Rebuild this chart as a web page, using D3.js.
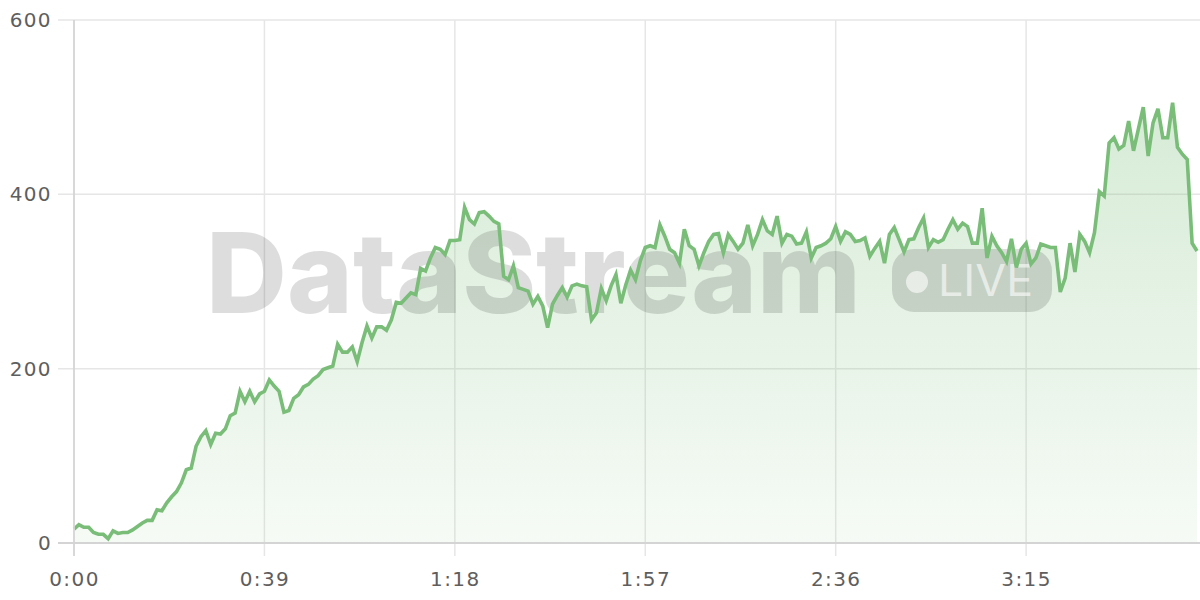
<!DOCTYPE html>
<html>
<head>
<meta charset="utf-8">
<script src="https://cdn.jsdelivr.net/npm/d3@7"></script>
<style>
  html, body { margin: 0; padding: 0; background: #fff; }
  svg { display: block; }
</style>
</head>
<body>
<svg id="chart" width="1200" height="600"></svg>
<script>
// ---- data (seconds -> value) ----
const values = [
  16,21,18,18,12,10,10,5,14,11,
  12,12,15,19,23,26,26,38,37,46,
  53,59,69,84,86,111,122,129,113,126,
  125,131,146,149,174,162,174,162,171,174,
  187,180,174,150,152,166,170,179,182,188,
  192,199,201,203,228,219,219,225,208,230,
  249,235,248,248,244,256,276,275,281,287,
  285,315,312,327,339,337,331,347,347,348,
  385,371,366,379,380,375,369,366,306,302,
  318,293,291,289,274,283,272,247,274,284,
  293,282,295,297,295,294,256,264,292,278,
  295,308,275,296,313,302,324,339,341,339,
  365,352,337,333,321,360,341,337,318,333,
  346,354,355,333,354,346,337,344,365,341,
  354,371,358,354,375,344,354,352,343,344,
  357,327,339,341,344,349,363,346,357,354,
  346,347,350,329,338,346,321,354,362,348,
  334,348,349,362,373,339,348,345,348,360,
  371,360,367,363,344,344,384,327,352,341,
  333,323,349,316,337,344,320,327,343,341,
  339,339,288,304,344,311,354,346,333,356,
  403,398,459,465,452,456,484,450,475,500,
  444,482,498,465,465,505,454,446,440,344,
  335
];
const times = values.map((v, i) => i);
const xTicks = [0, 39, 78, 117, 156, 195];
const xTickLabels = ["0:00", "0:39", "1:18", "1:57", "2:36", "3:15"];
const yTicks = [0, 200, 400, 600];
const watermarkText = "DataStream";
const badgeText = "LIVE";

const data = times.map((t, i) => ({ t, v: values[i] }));

const svg = d3.select("#chart");
const W = 1200, H = 600;
const mLeft = 74, mRight = 1197, mTop = 20, mBottom = 543;

const x = d3.scaleLinear().domain([0, 230]).range([mLeft, mRight]);
const y = d3.scaleLinear().domain([0, 600]).range([mBottom, mTop]);

const defs = svg.append("defs");
const grad = defs.append("linearGradient")
  .attr("id", "areaGrad").attr("x1", 0).attr("x2", 0)
  .attr("gradientUnits", "userSpaceOnUse")
  .attr("y1", y(520)).attr("y2", y(0));
grad.append("stop").attr("offset", 0).attr("stop-color", "#7dbf7d").attr("stop-opacity", 0.32);
grad.append("stop").attr("offset", 1).attr("stop-color", "#7dbf7d").attr("stop-opacity", 0.07);

// grid
const grid = svg.append("g");
grid.selectAll("line.h").data(yTicks).join("line")
  .attr("x1", 58).attr("x2", W).attr("y1", d => y(d)).attr("y2", d => y(d))
  .attr("stroke", "#e6e6e6").attr("stroke-width", 1.5);
grid.selectAll("line.v").data(xTicks.slice(1)).join("line")
  .attr("x1", d => x(d)).attr("x2", d => x(d)).attr("y1", mTop).attr("y2", 556)
  .attr("stroke", "#e6e6e6").attr("stroke-width", 1.5);

// area
const area = d3.area().x(d => x(d.t)).y0(y(0)).y1(d => y(d.v));
svg.append("path").datum(data).attr("d", area).attr("fill", "url(#areaGrad)");

// watermark
const wm = svg.append("g");
wm.append("text").text(watermarkText)
  .attr("x", 206).attr("y", 313)
  .attr("textLength", 655).attr("lengthAdjust", "spacingAndGlyphs")
  .attr("font-family", "Inter, Roboto, Liberation Sans, sans-serif")
  .attr("font-weight", 800).attr("font-size", 112)
  .attr("fill", "#000").attr("fill-opacity", 0.135);
wm.append("rect").attr("x", 892).attr("y", 249).attr("width", 160).attr("height", 63)
  .attr("rx", 22).attr("fill", "#000").attr("fill-opacity", 0.135);
wm.append("circle").attr("cx", 917).attr("cy", 282).attr("r", 11)
  .attr("fill", "#fff").attr("fill-opacity", 0.6);
wm.append("text").text(badgeText)
  .attr("x", 938).attr("y", 296)
  .attr("textLength", 95).attr("lengthAdjust", "spacingAndGlyphs")
  .attr("font-family", "Inter, Liberation Sans, sans-serif")
  .attr("font-size", 44)
  .attr("fill", "#fff").attr("fill-opacity", 0.6);

// line
const line = d3.line().x(d => x(d.t)).y(d => y(d.v));
svg.append("path").datum(data).attr("d", line)
  .attr("fill", "none").attr("stroke", "#79bd79").attr("stroke-width", 3.6)
  .attr("stroke-linejoin", "miter").attr("stroke-miterlimit", 4);

// axes lines
svg.append("line").attr("x1", mLeft).attr("x2", mLeft).attr("y1", mTop).attr("y2", 556)
  .attr("stroke", "#d4d4d4").attr("stroke-width", 1.8);
svg.append("line").attr("x1", 58).attr("x2", W).attr("y1", mBottom).attr("y2", mBottom)
  .attr("stroke", "#d4d4d4").attr("stroke-width", 1.8);

// axis labels via d3 axes
const xAxis = d3.axisBottom(x).tickValues(xTicks).tickFormat((d, i) => xTickLabels[i]).tickSize(0).tickPadding(0);
const gx = svg.append("g").attr("transform", `translate(0, 572)`).call(xAxis);
gx.select(".domain").remove();
gx.selectAll("text").attr("fill", "#5e5e5e").attr("font-size", 20)
  .attr("font-family", "DejaVu Sans, sans-serif").attr("letter-spacing", "1.4px").attr("dy", "0.71em");

const yAxis = d3.axisLeft(y).tickValues(yTicks).tickFormat(d3.format("d")).tickSize(0).tickPadding(0);
const gy = svg.append("g").attr("transform", `translate(52, 0)`).call(yAxis);
gy.select(".domain").remove();
gy.selectAll("text").attr("fill", "#5e5e5e").attr("font-size", 20)
  .attr("font-family", "DejaVu Sans, sans-serif").attr("letter-spacing", "1.4px");
</script>
</body>
</html>
